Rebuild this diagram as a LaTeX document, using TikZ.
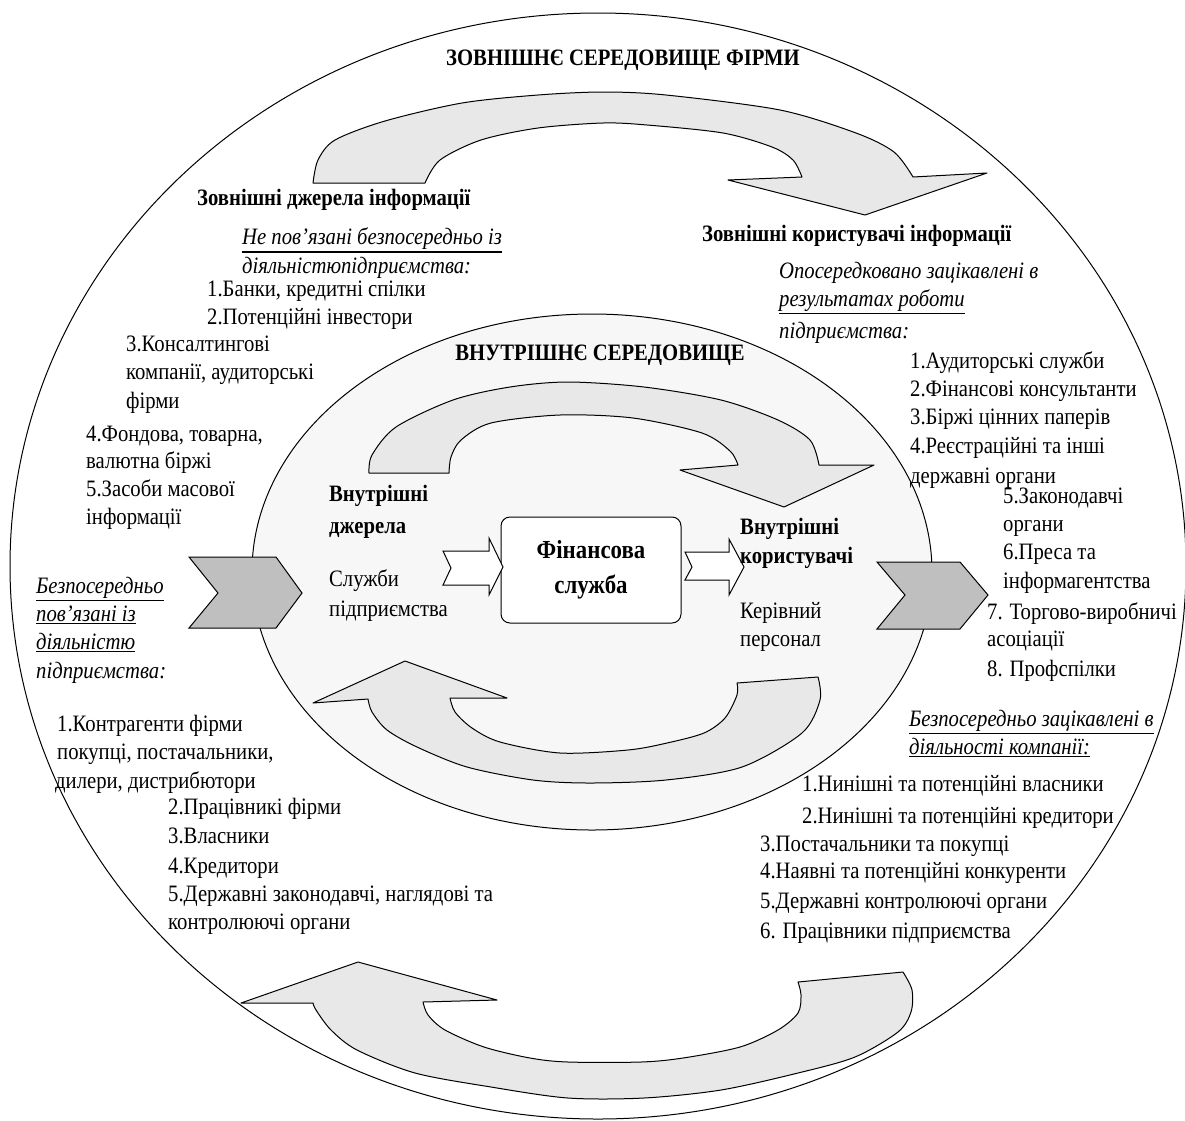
\documentclass[tikz,border=0pt]{standalone}
\usepackage{fontspec}
\setmainfont{Liberation Serif}[FakeStretch=0.88]
\usetikzlibrary{shapes.geometric}
\definecolor{arrowgray}{gray}{0.91}
\definecolor{innergray}{gray}{0.97}
\definecolor{chevgray}{gray}{0.75}
\newcommand{\UL}[2][1.1pt]{\leavevmode\vtop{\hbox{#2}\kern1.8pt\hrule height #1}}
\newcommand{\TL}[4]{\node[txt] (#1) at (#2,#3+6) {#4};}
\newcommand{\TB}[4]{\node[hdr] (#1) at (#2,#3+6) {#4};}
\tikzset{
  txt/.style={anchor=base west, inner sep=0pt, font=\fontsize{23.5}{28}\selectfont},
  hdr/.style={anchor=base west, inner sep=0pt, font=\fontsize{23.5}{28}\selectfont\bfseries},
  bigarrow/.style={draw, line width=1pt, fill=arrowgray, line join=round},
  chevron/.style={draw, line width=1pt, fill=chevgray},
  smallarrow/.style={draw, line width=1pt, fill=white},
}
\begin{document}
\begin{tikzpicture}[x=1pt,y=-1pt]
\useasboundingbox (0,0) rectangle (1185,1120);
% outer environment
\node[ellipse, draw, line width=1pt, fill=white, minimum width=1176pt, minimum height=1106pt, inner sep=0pt] (outer) at (598,566) {};
% top outer arrow
\draw[bigarrow] plot[smooth] coordinates {(313,183) (318,160) (335,140) (385,121) (462,103) (538,95) (603,92) (666,95) (780,110) (856,133) (894,152) (913,177)}
  -- (987,173) -- (865,215) -- (728,180) -- (802,177)
  -- plot[smooth] coordinates {(802,177) (793,160) (772,147) (723,133) (647,125) (603,123) (538,128) (481,140) (440,160) (425,183)} -- cycle;
% bottom outer arrow
\draw[bigarrow] plot[smooth] coordinates {(903,972) (912,990) (911,1012) (898,1032) (855,1057) (798,1073) (721,1090) (644,1098) (568,1098) (491,1087) (415,1073) (357,1050) (331,1030) (316,1010) (313,1003)}
  -- (241,1003) -- (358,962) -- (497,1000) -- (423,1002)
  -- plot[smooth] coordinates {(423,1002) (428,1015) (445,1030) (484,1047) (530,1058) (568,1062) (641,1062) (683,1058) (740,1047) (778,1030) (798,1013) (801,995) (798,982)} -- cycle;
% inner environment
\node[ellipse, draw, line width=1pt, fill=innergray, minimum width=680pt, minimum height=516pt, inner sep=0pt] (inner) at (592,572) {};
% top inner arrow
\draw[bigarrow] plot[smooth] coordinates {(369,473) (372,455) (396,427) (453,400) (510,387) (568,382) (644,387) (721,400) (778,420) (810,440) (819,465)}
  -- (874,465) -- (784,507) -- (680,470) -- (738,465)
  -- plot[smooth] coordinates {(738,465) (730,451) (702,433) (633,418) (560,415) (491,423) (461,440) (451,457) (449,473)} -- cycle;
% bottom inner arrow
\draw[bigarrow] plot[smooth] coordinates {(818,677) (820,700) (802,733) (742,767) (666,780) (590,783) (533,780) (467,767) (417,747) (387,730) (372,712) (368,699)}
  -- (313,703) -- (405,661) -- (507,698) -- (450,698)
  -- plot[smooth] coordinates {(450,698) (455,712) (472,728) (500,742) (560,753) (628,750) (667,743) (704,733) (725,718) (737,695) (737,683)} -- cycle;
% chevrons
\draw[chevron] (189,557) -- (276,557) -- (302,593) -- (276,628) -- (189,628) -- (218,593) -- cycle;
\draw[chevron] (877,562) -- (960,562) -- (988,595) -- (960,629) -- (877,629) -- (905,595) -- cycle;
% central box
\node[draw, line width=1pt, fill=white, rounded corners=9pt, minimum width=180pt, minimum height=106pt, align=center, font=\fontsize{26}{35}\selectfont\bfseries] (fin) at (591,570) {Фінансова\\служба};
% small arrows
\draw[smallarrow] (443,551) -- (489,551) -- (489,538) -- (503,567) -- (489,595) -- (489,585) -- (443,585) -- (451,568) -- cycle;
\draw[smallarrow] (685,552) -- (729,552) -- (729,539) -- (744,567) -- (729,595) -- (729,580) -- (685,580) -- (692,567) -- cycle;
% titles
\node[hdr, anchor=base] (title) at (623,65) {ЗОВНІШНЄ СЕРЕДОВИЩЕ ФІРМИ};
\node[hdr, anchor=base] (ititle) at (600,360) {ВНУТРІШНЄ СЕРЕДОВИЩЕ};
% inner texts
\TB{ij1}{329}{495}{Внутрішні}
\TB{ij2}{329}{527}{джерела}
\TL{is1}{329}{580}{Служби}
\TL{is2}{329}{610}{підприємства}
\TB{ik1}{740}{528}{Внутрішні}
\TB{ik2}{740}{557}{користувачі}
\TL{ip1}{740}{612}{Керівний}
\TL{ip2}{740}{640}{персонал}
% left: external sources
\TB{a1}{197}{199}{Зовнішні джерела інформації}
\TL{a2a}{242}{238}{\UL[2pt]{\itshape Не пов’язані безпосередньо із}}
\TL{a2b}{242}{267}{\itshape діяльністюпідприємства:}
\TL{a3a}{207}{290}{1.Банки, кредитні спілки}
\TL{a3b}{207}{318}{2.Потенційні інвестори}
\TL{a4a}{126}{345}{3.Консалтингові}
\TL{a4b}{126}{373}{компанії, аудиторські}
\TL{a4c}{126}{402}{фірми}
\TL{a5a}{86}{435}{4.Фондова, товарна,}
\TL{a5b}{86}{462}{валютна біржі}
\TL{a5c}{86}{490}{5.Засоби масової}
\TL{a5d}{86}{518}{інформації}
\TL{a6a}{36}{587}{\UL{\itshape Безпосередньо}}
\TL{a6b}{36}{615}{\UL{\itshape пов’язані із}}
\TL{a6c}{36}{643}{\UL{\itshape діяльністю}}
\TL{a6d}{36}{672}{\itshape підприємства:}
\TL{a7a}{57}{725}{1.Контрагенти фірми}
\TL{a7b}{57}{753}{покупці, постачальники,}
\TL{a7c}{55}{782}{дилери, дистрибютори}
\TL{a8a}{168}{808}{2.Працівникі фірми}
\TL{a8b}{168}{837}{3.Власники}
\TL{a8c}{168}{867}{4.Кредитори}
\TL{a8d}{168}{895}{5.Державні законодавчі, наглядові та}
\TL{a8e}{168}{923}{контролюючі органи}
% right: external users
\TB{b1}{702}{235}{Зовнішні користувачі інформації}
\TL{b2a}{779}{272}{\itshape Опосередковано зацікавлені в}
\TL{b2b}{779}{300}{\UL{\itshape результатах роботи}}
\TL{b2c}{779}{332}{\itshape підприємства:}
\TL{b3a}{910}{362}{1.Аудиторські служби}
\TL{b3b}{910}{390}{2.Фінансові консультанти}
\TL{b3c}{910}{418}{3.Біржі цінних паперів}
\TL{b3d}{910}{447}{4.Реєстраційні та інші}
\TL{b3e}{910}{477}{державні органи}
\TL{b4a}{1003}{497}{5.Законодавчі}
\TL{b4b}{1003}{525}{органи}
\TL{b4c}{1003}{553}{6.Преса та}
\TL{b4d}{1003}{582}{інформагентства}
\TL{b5a}{987}{613}{7. Торгово-виробничі}
\TL{b5b}{987}{640}{асоціації}
\TL{b5c}{987}{670}{8. Профспілки}
\TL{b6a}{909}{720}{\UL{\itshape Безпосередньо зацікавлені в}}
\TL{b6b}{909}{748}{\UL{\itshape діяльності компанії:}}
\TL{b7a}{802}{785}{1.Нинішні та потенційні власники}
\TL{b7b}{802}{817}{2.Нинішні та потенційні кредитори}
\TL{b8a}{760}{845}{3.Постачальники та покупці}
\TL{b8b}{760}{872}{4.Наявні та потенційні конкуренти}
\TL{b8c}{760}{902}{5.Державні контролюючі органи}
\TL{b8d}{760}{932}{6. Працівники підприємства}
\end{tikzpicture}
\end{document}
